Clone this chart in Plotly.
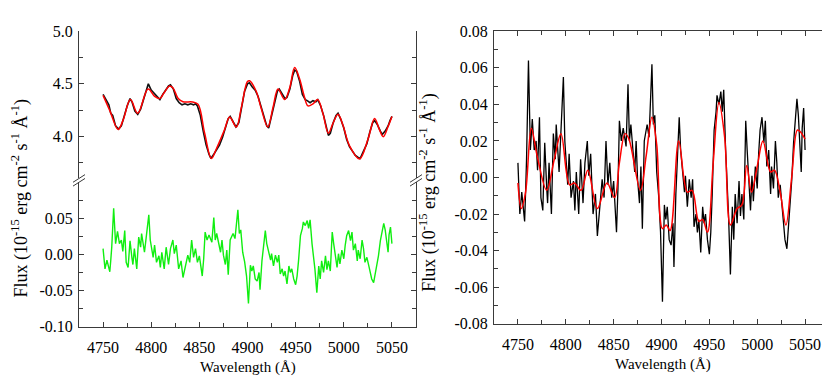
import plotly.graph_objects as go

# top-left: observed spectrum (black) and model (red)
obs_wl = [4750, 4753, 4756, 4758, 4760, 4763, 4766, 4769, 4772, 4775, 4778, 4780, 4783, 4786,
          4789, 4792, 4795, 4797, 4800, 4803, 4806, 4809, 4812, 4815, 4818, 4820, 4823, 4826,
          4829, 4832, 4835, 4838, 4841, 4844, 4846, 4848, 4851, 4854, 4857, 4860, 4862, 4865,
          4868, 4871, 4874, 4877, 4880, 4882, 4885, 4888, 4891, 4894, 4897, 4900, 4902, 4905,
          4908, 4911, 4914, 4917, 4920, 4922, 4925, 4928, 4931, 4933, 4936, 4939, 4941, 4944,
          4947, 4949, 4951, 4954, 4957, 4960, 4962, 4965, 4968, 4971, 4973, 4976, 4979, 4982,
          4984, 4986, 4989, 4992, 4994, 4997, 5000, 5003, 5006, 5009, 5012, 5015, 5017, 5020,
          5024, 5027, 5030, 5032, 5035, 5038, 5040, 5043, 5046, 5048, 5050]
obs_flux = [4.40, 4.35, 4.30, 4.22, 4.20, 4.10, 4.07, 4.10, 4.20, 4.29, 4.36, 4.33, 4.24, 4.21,
            4.26, 4.35, 4.44, 4.50, 4.44, 4.41, 4.37, 4.35, 4.40, 4.44, 4.48, 4.49, 4.45, 4.36,
            4.32, 4.30, 4.31, 4.30, 4.31, 4.30, 4.31, 4.29, 4.20, 4.05, 3.92, 3.83, 3.79, 3.83,
            3.88, 3.92, 3.99, 4.08, 4.17, 4.19, 4.14, 4.09, 4.13, 4.28, 4.43, 4.50, 4.51, 4.47,
            4.44, 4.38, 4.28, 4.20, 4.10, 4.08, 4.20, 4.34, 4.43, 4.45, 4.40, 4.36, 4.37, 4.45,
            4.58, 4.63, 4.62, 4.53, 4.40, 4.35, 4.34, 4.32, 4.34, 4.33, 4.35, 4.29, 4.20, 4.08,
            4.01, 4.03, 4.13, 4.20, 4.22, 4.16, 4.08, 3.97, 3.90, 3.86, 3.82, 3.80, 3.79, 3.85,
            3.93, 4.04, 4.13, 4.15, 4.11, 4.05, 4.02, 4.05, 4.10, 4.15, 4.19]

model_wl = [4750, 4757, 4765.6, 4770.8, 4778.4, 4786, 4796.7, 4803.6, 4808.8, 4813, 4819, 4822.7,
            4828, 4833, 4843, 4848.6, 4855.5, 4862.5, 4867.6, 4876, 4881.5, 4888.4, 4893.6,
            4899.8, 4902, 4909, 4914, 4921, 4926.5, 4931.7, 4938.6, 4943.8, 4949, 4954, 4959,
            4962.8, 4968, 4973, 4978.4, 4984, 4988.8, 4994, 4999, 5006, 5016.4, 5025, 5032,
            5037, 5041, 5046, 5050]
model_flux = [4.39, 4.245, 4.065, 4.155, 4.35, 4.22, 4.45, 4.38, 4.36, 4.41, 4.48, 4.46,
              4.36, 4.33, 4.327, 4.305, 4.03, 3.79, 3.88, 4.06, 4.185, 4.09, 4.275,
              4.52, 4.53, 4.43, 4.275, 4.09, 4.275, 4.45, 4.35, 4.46, 4.655, 4.55, 4.38,
              4.29, 4.31, 4.35, 4.215, 4.03, 4.125, 4.21, 4.11, 3.91, 3.785, 3.97, 4.17,
              4.064, 3.997, 4.094, 4.19]

# residual (green on the left, black on the right)
res_wl = [4750, 4752, 4754, 4756, 4757, 4758, 4759, 4761, 4763, 4765, 4767, 4769, 4770.5, 4772.5,
          4774, 4776, 4778, 4780, 4781, 4782.5, 4785, 4787, 4789, 4790, 4793, 4795, 4797.5, 4799,
          4802, 4803.5, 4805.5, 4808, 4809.5, 4811, 4813.5, 4815.5, 4818, 4820, 4822.5, 4824,
          4826, 4828.5, 4831, 4833, 4835.5, 4838, 4840, 4842, 4844, 4846, 4848, 4850, 4853,
          4854.5, 4856, 4858, 4860, 4861.5, 4863, 4865, 4866.5, 4868, 4870, 4872, 4873.5, 4875,
          4877, 4878.5, 4880, 4882, 4885, 4887, 4890, 4891.5, 4893, 4895, 4897, 4899, 4901,
          4903, 4904.5, 4906, 4908, 4910, 4912, 4913, 4915, 4917, 4918.5, 4920, 4922, 4924,
          4925, 4927, 4929, 4931, 4932.5, 4934, 4936, 4937.5, 4939, 4941, 4943, 4944.5, 4946,
          4948, 4950, 4951.5, 4953, 4955, 4957, 4958, 4960, 4962, 4963.5, 4965, 4967, 4969,
          4970, 4972, 4974, 4975.5, 4977, 4979, 4981, 4982.5, 4984, 4986, 4988, 4989.5, 4991,
          4993, 4994.5, 4996, 4998, 5000, 5001.5, 5003, 5005, 5007, 5008.5, 5010, 5012, 5014,
          5015, 5017, 5019, 5020.5, 5022, 5024, 5026, 5027.5, 5029, 5031, 5033, 5034.5, 5036,
          5038, 5040, 5041.5, 5043, 5045, 5046, 5047, 5048.5, 5050]
res_flux = [0.008, -0.020, -0.008, -0.020, -0.024, -0.008, 0.010, 0.064, 0.015, 0.032, 0.015,
            0.020, 0.004, 0.033, -0.011, -0.018, 0.019, -0.005, -0.014, 0.008, -0.020, 0.024,
            0.010, 0.029, 0.003, 0.026, 0.055, 0.020, -0.004, 0.013, -0.011, -0.002, -0.018,
            0.003, -0.020, 0.010, -0.014, 0.008, 0.020, 0.001, 0.013, -0.020, -0.009, -0.032,
            -0.014, -0.001, -0.011, 0.020, -0.004, 0.008, -0.011, -0.002, -0.030, -0.006, 0.031,
            0.020, 0.027, 0.022, 0.017, 0.051, 0.020, 0.029, 0.015, 0.003, 0.020, -0.001, -0.014,
            0.006, -0.028, 0.020, 0.029, 0.022, 0.062, 0.029, 0.034, 0.003, -0.010, -0.030,
            -0.068, -0.015, -0.023, -0.016, -0.034, -0.037, -0.025, -0.049, -0.009, 0.015, 0.033,
            0.015, 0.005, -0.008, 0.001, -0.016, -0.001, -0.011, -0.001, -0.027, -0.020, -0.030,
            -0.023, -0.041, -0.016, -0.025, -0.020, -0.034, -0.042, -0.030, -0.009, 0.026, 0.036,
            0.045, 0.040, 0.047, 0.036, 0.048, 0.015, -0.006, -0.020, -0.053, -0.016, -0.034,
            -0.009, -0.025, -0.002, -0.021, -0.009, -0.023, 0.031, 0.015, -0.002, -0.018, 0.001,
            -0.013, 0.006, -0.006, 0.013, 0.026, 0.033, 0.019, 0.031, 0.006, 0.015, -0.009, 0.006,
            -0.006, 0.020, 0.008, -0.011, -0.004, -0.016, -0.027, -0.034, -0.039, -0.025, -0.013,
            -0.002, 0.019, 0.031, 0.043, 0.034, 0.012, 0.003, 0.027, 0.038, 0.015]

# smoothed residual (red on the right)
smooth_wl = [4750, 4753.5, 4758, 4764, 4770, 4780, 4788, 4795, 4804, 4809, 4816, 4823, 4833,
             4843, 4851, 4856, 4862, 4866, 4878, 4884, 4890, 4895, 4901, 4905, 4909, 4918,
             4927, 4932, 4939, 4943, 4948, 4954, 4960, 4966, 4972, 4979, 4984, 4989, 4994,
             5000, 5006, 5014, 5018, 5024, 5030, 5036, 5042, 5045, 5050]
smooth_flux = [-0.003, -0.017, -0.008, 0.027, 0.012, -0.007, 0.010, 0.024, -0.004, -0.003,
               -0.007, 0.004, -0.017, -0.003, -0.011, 0.008, 0.024, 0.021, -0.007, 0.012,
               0.033, 0.018, -0.028, -0.026, -0.029, 0.020, -0.008, -0.007, -0.024, -0.023,
               -0.030, 0.008, 0.041, 0.022, -0.026, -0.017, -0.015, 0.0065, -0.008, 0.006,
               0.020, 0.003, 0.004, -0.008, -0.026, 0.000, 0.026, 0.025, 0.021]

top_ticks = [4.0, 4.5, 5.0]
top_labels = ["4.0", "4.5", "5.0"]
low_ticks = [-0.10, -0.05, 0.00, 0.05]
low_labels = ["-0.10", "-0.05", "0.00", "0.05"]
right_ticks = [-0.08, -0.06, -0.04, -0.02, 0.00, 0.02, 0.04, 0.06, 0.08]
right_labels = ["-0.08", "-0.06", "-0.04", "-0.02", "0.00", "0.02", "0.04", "0.06", "0.08"]
wl_ticks = [4750, 4800, 4850, 4900, 4950, 5000, 5050]

W, H = 830, 383
FONT = "Liberation Serif, Times New Roman, Times, serif"
AX = "#3a3a3a"
flux_title = "Flux (10<sup>-15</sup> erg cm<sup>-2</sup> s<sup>-1</sup> Å<sup>-1</sup>)"

def px(x):
    return x / W

def py(y):
    return 1 - y / H

fig = go.Figure()
fig.add_trace(go.Scatter(x=obs_wl, y=obs_flux, mode="lines", line=dict(color="#111111", width=1.6),
                         xaxis="x", yaxis="y"))
fig.add_trace(go.Scatter(x=model_wl, y=model_flux, mode="lines", line=dict(color="#ff0000", width=1.5, shape="spline"),
                         xaxis="x", yaxis="y"))
fig.add_trace(go.Scatter(x=res_wl, y=res_flux, mode="lines", line=dict(color="#10ee10", width=1.4),
                         xaxis="x", yaxis="y2"))
fig.add_trace(go.Scatter(x=res_wl, y=res_flux, mode="lines", line=dict(color="#000000", width=1.3),
                         xaxis="x2", yaxis="y3"))
fig.add_trace(go.Scatter(x=smooth_wl, y=smooth_flux, mode="lines", line=dict(color="#ff0000", width=1.5, shape="spline"),
                         xaxis="x2", yaxis="y3"))

tickfont = dict(family=FONT, size=16, color="black")
common_x = dict(range=[4725, 5075], tickvals=wl_ticks, ticks="inside", ticklen=5, tickcolor=AX,
                showline=True, linecolor=AX, linewidth=1, showgrid=False, zeroline=False,
                minor=dict(dtick=25, tick0=4725, ticks="inside", ticklen=4, tickcolor=AX),
                tickfont=tickfont, ticklabelstandoff=6)
common_y = dict(ticks="inside", ticklen=5, tickcolor=AX, showline=True, linecolor=AX, linewidth=1,
                showgrid=False, zeroline=False, mirror="allticks", tickfont=tickfont,
                ticklabelstandoff=2)

left_dom = [px(71), px(408)]
right_dom = [px(486), px(821)]

fig.update_layout(
    width=W, height=H, margin=dict(l=0, r=0, t=0, b=0),
    paper_bgcolor="white", plot_bgcolor="white", showlegend=False,
    font=dict(family=FONT, color="black"),
    xaxis=dict(domain=left_dom, anchor="y2", **common_x),
    xaxis3=dict(domain=left_dom, anchor="y", side="top", overlaying="x", showticklabels=False,
                **{k: v for k, v in common_x.items() if k not in ("tickfont", "ticklabelstandoff")}),
    yaxis=dict(domain=[py(170), py(16)], range=[3.6, 5.0], anchor="x", tickvals=top_ticks,
               ticktext=top_labels, minor=dict(dtick=0.25, tick0=3.5, ticks="inside", ticklen=4, tickcolor=AX),
               **common_y),
    yaxis2=dict(domain=[py(325), py(174)], range=[-0.1, 0.1], anchor="x", tickvals=low_ticks,
                ticktext=low_labels, minor=dict(dtick=0.025, tick0=0, ticks="inside", ticklen=4, tickcolor=AX),
                **common_y),
    xaxis2=dict(domain=right_dom, anchor="y3", mirror="allticks", **common_x),
    yaxis3=dict(domain=[py(322), py(16)], range=[-0.08, 0.08], anchor="x2", tickvals=right_ticks,
                ticktext=right_labels, minor=dict(dtick=0.01, tick0=0, ticks="inside", ticklen=4, tickcolor=AX),
                **common_y),
)

# y-axis break marks on the left panel
for xb in (71, 408):
    for dy in (-2, 2):
        fig.add_shape(type="line", xref="paper", yref="paper",
                      x0=px(xb - 6), y0=py(172 + dy + 4), x1=px(xb + 6), y1=py(172 + dy - 4),
                      line=dict(color=AX, width=1))

title_font = dict(family=FONT, size=18, color="black")
fig.add_annotation(text=flux_title, x=px(12), y=py(191), xref="paper", yref="paper",
                   xanchor="center", yanchor="middle", textangle=-90, showarrow=False, font=title_font)
fig.add_annotation(text=flux_title, x=px(420), y=py(185), xref="paper", yref="paper",
                   xanchor="center", yanchor="middle", textangle=-90, showarrow=False, font=title_font)
fig.add_annotation(text="Wavelength (Å)", x=px(240), y=py(368), xref="paper", yref="paper",
                   xanchor="center", yanchor="middle", showarrow=False, font=dict(family=FONT, size=15, color="black"))
fig.add_annotation(text="Wavelength (Å)", x=px(655), y=py(365), xref="paper", yref="paper",
                   xanchor="center", yanchor="middle", showarrow=False, font=dict(family=FONT, size=15, color="black"))

fig.write_html("out.html")
